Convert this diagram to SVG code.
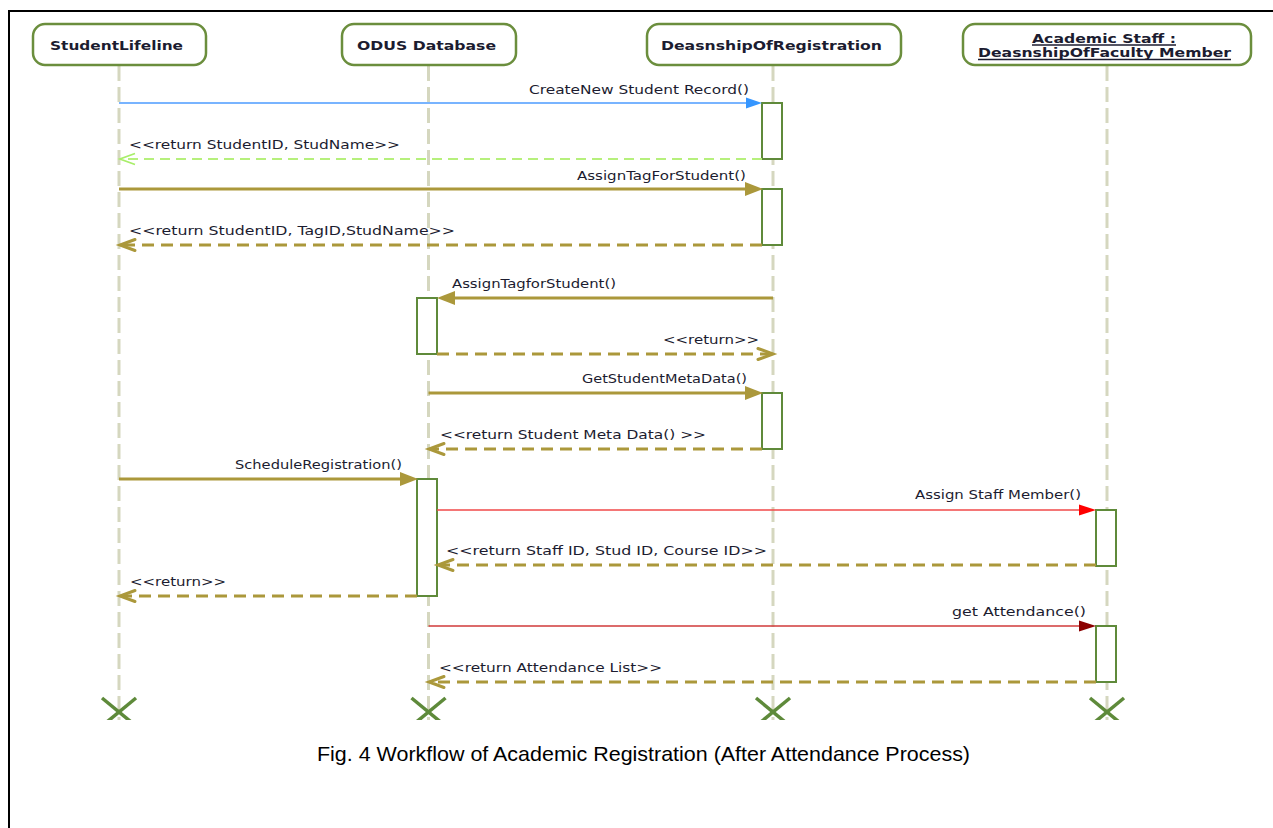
<svg xmlns="http://www.w3.org/2000/svg" width="1273" height="828" viewBox="0 0 1273 828">
<defs>
<style>
.hdr{fill:#ffffff;stroke:#6b8e3d;stroke-width:2.5}
.ht{font-family:"DejaVu Sans",Verdana,sans-serif;font-weight:bold;font-size:12.5px;fill:#1c1c30}
.ul{stroke:#1c1c30;stroke-width:1.3}
.life{stroke:#d5d7bf;stroke-width:3;stroke-dasharray:15 6;fill:none}
.act{fill:#ffffff;stroke:#5f8a3a;stroke-width:2}
.x{stroke:#5e8a3a;stroke-width:3.5;fill:none}
.mt{font-family:"DejaVu Sans",Verdana,sans-serif;font-size:11.5px;fill:#1c1c30}
.gold{stroke:#ab983b;stroke-width:3;fill:none}
.goldd{stroke:#ab983b;stroke-width:3;fill:none;stroke-dasharray:12 7}
.goldh{fill:#ab983b;stroke:none}
.open{stroke:#ab983b;stroke-width:3;fill:none;stroke-linecap:round}
.blue{stroke:#78b4ff;stroke-width:2;fill:none}
.blueh{fill:#3596ff}
.lgreen{stroke:#b6f07c;stroke-width:2;fill:none;stroke-dasharray:10 6}
.lgopen{stroke:#a8ee6a;stroke-width:1.8;fill:none}
.red{stroke:#f04848;stroke-width:1.5;fill:none}
.redh{fill:#ff0000}
.dred{stroke:#d03a3a;stroke-width:1.5;fill:none}
.dredh{fill:#8b0000}
.cap{font-family:"Liberation Sans",Arial,sans-serif;font-size:21px;fill:#000000}
</style>
<clipPath id="xc"><rect x="0" y="0" width="1273" height="720"/></clipPath>
</defs>
<rect x="0" y="0" width="1273" height="828" fill="#ffffff"/>
<g id="frame">
<line x1="8" y1="11" x2="1273" y2="11" stroke="#000" stroke-width="2"/>
<line x1="9" y1="10" x2="9" y2="828" stroke="#000" stroke-width="2"/>
</g>

<g id="node-student">
<line class="life" x1="119" y1="66" x2="119" y2="720"/>
<rect class="hdr" x="33" y="24" width="173" height="41" rx="12"/>
<text class="ht" x="50" y="50" textLength="133" lengthAdjust="spacingAndGlyphs">StudentLifeline</text>
<g clip-path="url(#xc)"><line class="x" x1="102" y1="698" x2="136" y2="726"/><line class="x" x1="136" y1="698" x2="102" y2="726"/></g>
</g>

<g id="node-odus">
<line class="life" x1="428.5" y1="66" x2="428.5" y2="720"/>
<rect class="hdr" x="342" y="24" width="174" height="41" rx="12"/>
<text class="ht" x="357" y="50" textLength="139" lengthAdjust="spacingAndGlyphs">ODUS Database</text>
<rect class="act" x="417" y="298" width="20" height="56"/>
<rect class="act" x="417" y="479" width="20" height="117"/>
<g clip-path="url(#xc)"><line class="x" x1="411.5" y1="698" x2="445.5" y2="726"/><line class="x" x1="445.5" y1="698" x2="411.5" y2="726"/></g>
</g>

<g id="node-registration">
<line class="life" x1="773" y1="66" x2="773" y2="720"/>
<rect class="hdr" x="647" y="24" width="254" height="41" rx="12"/>
<text class="ht" x="661" y="50" textLength="221" lengthAdjust="spacingAndGlyphs">DeasnshipOfRegistration</text>
<rect class="act" x="762" y="103" width="20" height="56"/>
<rect class="act" x="762" y="189" width="20" height="56"/>
<rect class="act" x="762" y="393" width="20" height="56"/>
<g clip-path="url(#xc)"><line class="x" x1="756" y1="698" x2="790" y2="726"/><line class="x" x1="790" y1="698" x2="756" y2="726"/></g>
</g>

<g id="node-faculty">
<line class="life" x1="1107" y1="66" x2="1107" y2="720"/>
<rect class="hdr" x="963" y="24" width="288" height="41" rx="12"/>
<text class="ht" x="1032" y="43" textLength="144" lengthAdjust="spacingAndGlyphs">Academic Staff :</text>
<line class="ul" x1="1032" y1="45" x2="1176" y2="45"/>
<text class="ht" x="978" y="57" textLength="253" lengthAdjust="spacingAndGlyphs">DeasnshipOfFaculty Member</text>
<line class="ul" x1="978" y1="59.5" x2="1231" y2="59.5"/>
<rect class="act" x="1096" y="510" width="20" height="56"/>
<rect class="act" x="1096" y="626" width="20" height="56"/>
<g clip-path="url(#xc)"><line class="x" x1="1090" y1="698" x2="1124" y2="726"/><line class="x" x1="1124" y1="698" x2="1090" y2="726"/></g>
</g>

<g id="connectors">
<g id="m1">
<line class="blue" x1="119" y1="103" x2="748" y2="103"/>
<polygon class="blueh" points="746,97.5 762,103 746,108.5"/>
<text class="mt" x="529" y="94" textLength="220" lengthAdjust="spacingAndGlyphs">CreateNew Student Record()</text>
</g>
<g id="m2">
<line class="lgreen" x1="762" y1="159" x2="121" y2="159"/>
<polyline class="lgopen" points="135,153.5 120,159 135,164.5"/>
<text class="mt" x="129" y="149" textLength="271" lengthAdjust="spacingAndGlyphs">&lt;&lt;return StudentID, StudName&gt;&gt;</text>
</g>
<g id="m3">
<line class="gold" x1="119" y1="189" x2="748" y2="189"/>
<polygon class="goldh" points="745,182 763,189 745,196"/>
<text class="mt" x="577" y="180" textLength="169" lengthAdjust="spacingAndGlyphs">AssignTagForStudent()</text>
</g>
<g id="m4">
<line class="goldd" x1="762" y1="245" x2="122" y2="245"/>
<polyline class="open" points="135,239.5 120,245 135,250.5"/>
<text class="mt" x="129" y="235" textLength="326" lengthAdjust="spacingAndGlyphs">&lt;&lt;return StudentID, TagID,StudName&gt;&gt;</text>
</g>
<g id="m5">
<line class="gold" x1="773" y1="298" x2="452" y2="298"/>
<polygon class="goldh" points="455,291 437,298 455,305"/>
<text class="mt" x="452" y="288" textLength="164" lengthAdjust="spacingAndGlyphs">AssignTagforStudent()</text>
</g>
<g id="m6">
<line class="goldd" x1="437" y1="354" x2="771" y2="354"/>
<polyline class="open" points="758,348.5 773,354 758,359.5"/>
<text class="mt" x="663" y="344" textLength="96" lengthAdjust="spacingAndGlyphs">&lt;&lt;return&gt;&gt;</text>
</g>
<g id="m7">
<line class="gold" x1="428.5" y1="393" x2="748" y2="393"/>
<polygon class="goldh" points="745,386 763,393 745,400"/>
<text class="mt" x="582" y="383" textLength="165" lengthAdjust="spacingAndGlyphs">GetStudentMetaData()</text>
</g>
<g id="m8">
<line class="goldd" x1="762" y1="449" x2="431" y2="449"/>
<polyline class="open" points="444,443.5 429,449 444,454.5"/>
<text class="mt" x="440" y="439" textLength="266" lengthAdjust="spacingAndGlyphs">&lt;&lt;return Student Meta Data() &gt;&gt;</text>
</g>
<g id="m9">
<line class="gold" x1="119" y1="479" x2="403" y2="479"/>
<polygon class="goldh" points="400,472 418,479 400,486"/>
<text class="mt" x="235" y="469" textLength="167" lengthAdjust="spacingAndGlyphs">ScheduleRegistration()</text>
</g>
<g id="m10">
<line class="red" x1="437" y1="510" x2="1082" y2="510"/>
<polygon class="redh" points="1079,504.5 1096,510 1079,515.5"/>
<text class="mt" x="915" y="499" textLength="166" lengthAdjust="spacingAndGlyphs">Assign Staff Member()</text>
</g>
<g id="m11">
<line class="goldd" x1="1096" y1="565" x2="440" y2="565"/>
<polyline class="open" points="453,559.5 438,565 453,570.5"/>
<text class="mt" x="446" y="555" textLength="321" lengthAdjust="spacingAndGlyphs">&lt;&lt;return Staff ID, Stud ID, Course ID&gt;&gt;</text>
</g>
<g id="m12">
<line class="goldd" x1="417" y1="596" x2="122" y2="596"/>
<polyline class="open" points="135,590.5 120,596 135,601.5"/>
<text class="mt" x="130" y="586" textLength="96" lengthAdjust="spacingAndGlyphs">&lt;&lt;return&gt;&gt;</text>
</g>
<g id="m13">
<line class="dred" x1="428.5" y1="626" x2="1082" y2="626"/>
<polygon class="dredh" points="1079,620.5 1096,626 1079,631.5"/>
<text class="mt" x="952" y="616" textLength="134" lengthAdjust="spacingAndGlyphs">get Attendance()</text>
</g>
<g id="m14">
<line class="goldd" x1="1096" y1="682" x2="431" y2="682"/>
<polyline class="open" points="444,676.5 429,682 444,687.5"/>
<text class="mt" x="439" y="672" textLength="223" lengthAdjust="spacingAndGlyphs">&lt;&lt;return Attendance List&gt;&gt;</text>
</g>
</g>

<text class="cap" x="317" y="761" textLength="653" lengthAdjust="spacingAndGlyphs">Fig. 4 Workflow of Academic Registration (After Attendance Process)</text>
</svg>
